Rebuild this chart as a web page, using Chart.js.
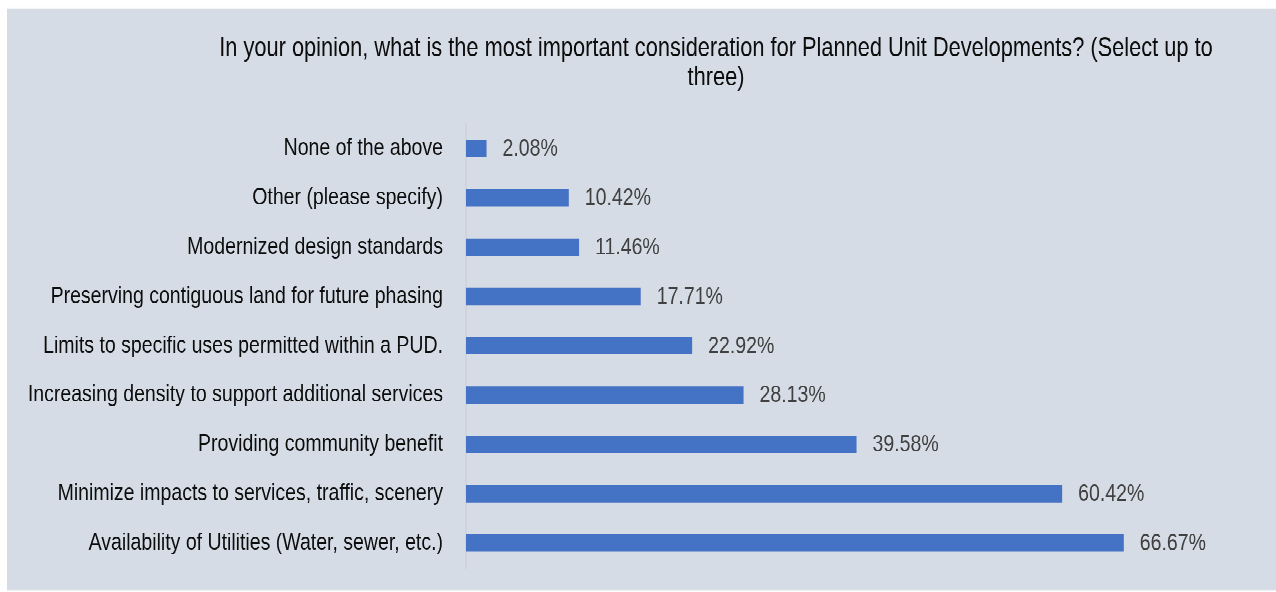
<!DOCTYPE html>
<html>
<head>
<meta charset="utf-8">
<title>Planned Unit Developments - survey</title>
<script src="https://cdn.jsdelivr.net/npm/chart.js@4.4.1/dist/chart.umd.min.js"></script>
<style>
    html, body { margin: 0; padding: 0; background: #ffffff; }
    #page { position: relative; width: 1276px; height: 592px; overflow: hidden; }
    /* the whole chart is drawn a bit short and stretched vertically (tall narrow type) */
    #stage {
        position: absolute;
        left: 0;
        top: 0;
        width: 1276px;
        height: 485.2px;
        transform: scaleY(1.22);
        transform-origin: 0 0;
    }
    #panel {
        position: absolute;
        left: 7px;
        top: 7.4px;
        width: 1269px;
        height: 477px;
        background: #d6dce6;
    }
    #wrap { position: absolute; left: 0; top: 0; width: 1276px; height: 485.2px; }
</style>
</head>
<body>
<div id="page">
    <div id="stage">
        <div id="panel"></div>
        <div id="wrap"><canvas id="chart"></canvas></div>
    </div>
</div>
<script>
// Survey answers, top row first
const categories = [
    'None of the above',
    'Other (please specify)',
    'Modernized design standards',
    'Preserving contiguous land for future phasing',
    'Limits to specific uses permitted within a PUD.',
    'Increasing density to support additional services',
    'Providing community benefit',
    'Minimize impacts to services, traffic, scenery',
    'Availability of Utilities (Water, sewer, etc.)'
];
const percentages = [2.08, 10.42, 11.46, 17.71, 22.92, 28.13, 39.58, 60.42, 66.67];
const titleLines = [
    'In your opinion, what is the most important consideration for Planned Unit Developments? (Select up to',
    'three)'
];

const FONT = '"Liberation Sans", Arial, sans-serif';
const FONT_SIZE = 19.5;
const TITLE_SIZE = 21.8;

// Title, centred over the bar area rather than the whole canvas
const titlePlugin = {
    id: 'centredTitle',
    afterDraw(chart) {
        const ctx = chart.ctx;
        ctx.save();
        ctx.font = `${TITLE_SIZE}px ${FONT}`;
        ctx.fillStyle = '#0d0d0d';
        ctx.textAlign = 'center';
        ctx.textBaseline = 'alphabetic';
        titleLines.forEach((line, i) => ctx.fillText(line, 716, 45.8 + i * 24.4));
        ctx.restore();
    }
};

// Percent labels to the right of each bar
const valueLabels = {
    id: 'valueLabels',
    afterDatasetsDraw(chart) {
        const ctx = chart.ctx;
        const meta = chart.getDatasetMeta(0);
        ctx.save();
        ctx.font = `${FONT_SIZE}px ${FONT}`;
        ctx.fillStyle = '#404040';
        ctx.textAlign = 'left';
        ctx.textBaseline = 'middle';
        meta.data.forEach((bar, i) => {
            ctx.fillText(percentages[i].toFixed(2) + '%', bar.x + 16, bar.y + 0.5);
        });
        ctx.restore();
    }
};

new Chart(document.getElementById('chart'), {
    type: 'bar',
    data: {
        labels: categories,
        datasets: [{
            data: percentages,
            backgroundColor: '#4472c4',
            borderWidth: 0,
            categoryPercentage: 1,
            barPercentage: 0.354
        }]
    },
    options: {
        indexAxis: 'y',
        responsive: true,
        maintainAspectRatio: false,
        animation: false,
        devicePixelRatio: 2,
        layout: { padding: { top: 101.5, bottom: 19.9, left: 0, right: 70 } },
        plugins: {
            legend: { display: false },
            tooltip: { enabled: false },
            title: { display: false }
        },
        scales: {
            x: {
                display: false,
                min: 0,
                max: 75
            },
            y: {
                // fixed axis width; drop the label overhang so layout padding decides the height
                afterFit(scale) {
                    scale.width = 466;
                    scale.paddingTop = 0;
                    scale.paddingBottom = 0;
                },
                grid: { display: false, drawTicks: false },
                border: { display: true, color: '#c9cdd3', width: 1 },
                ticks: {
                    padding: 23,
                    color: '#0d0d0d',
                    font: { family: FONT, size: FONT_SIZE }
                }
            }
        }
    },
    plugins: [titlePlugin, valueLabels]
});
</script>
</body>
</html>
